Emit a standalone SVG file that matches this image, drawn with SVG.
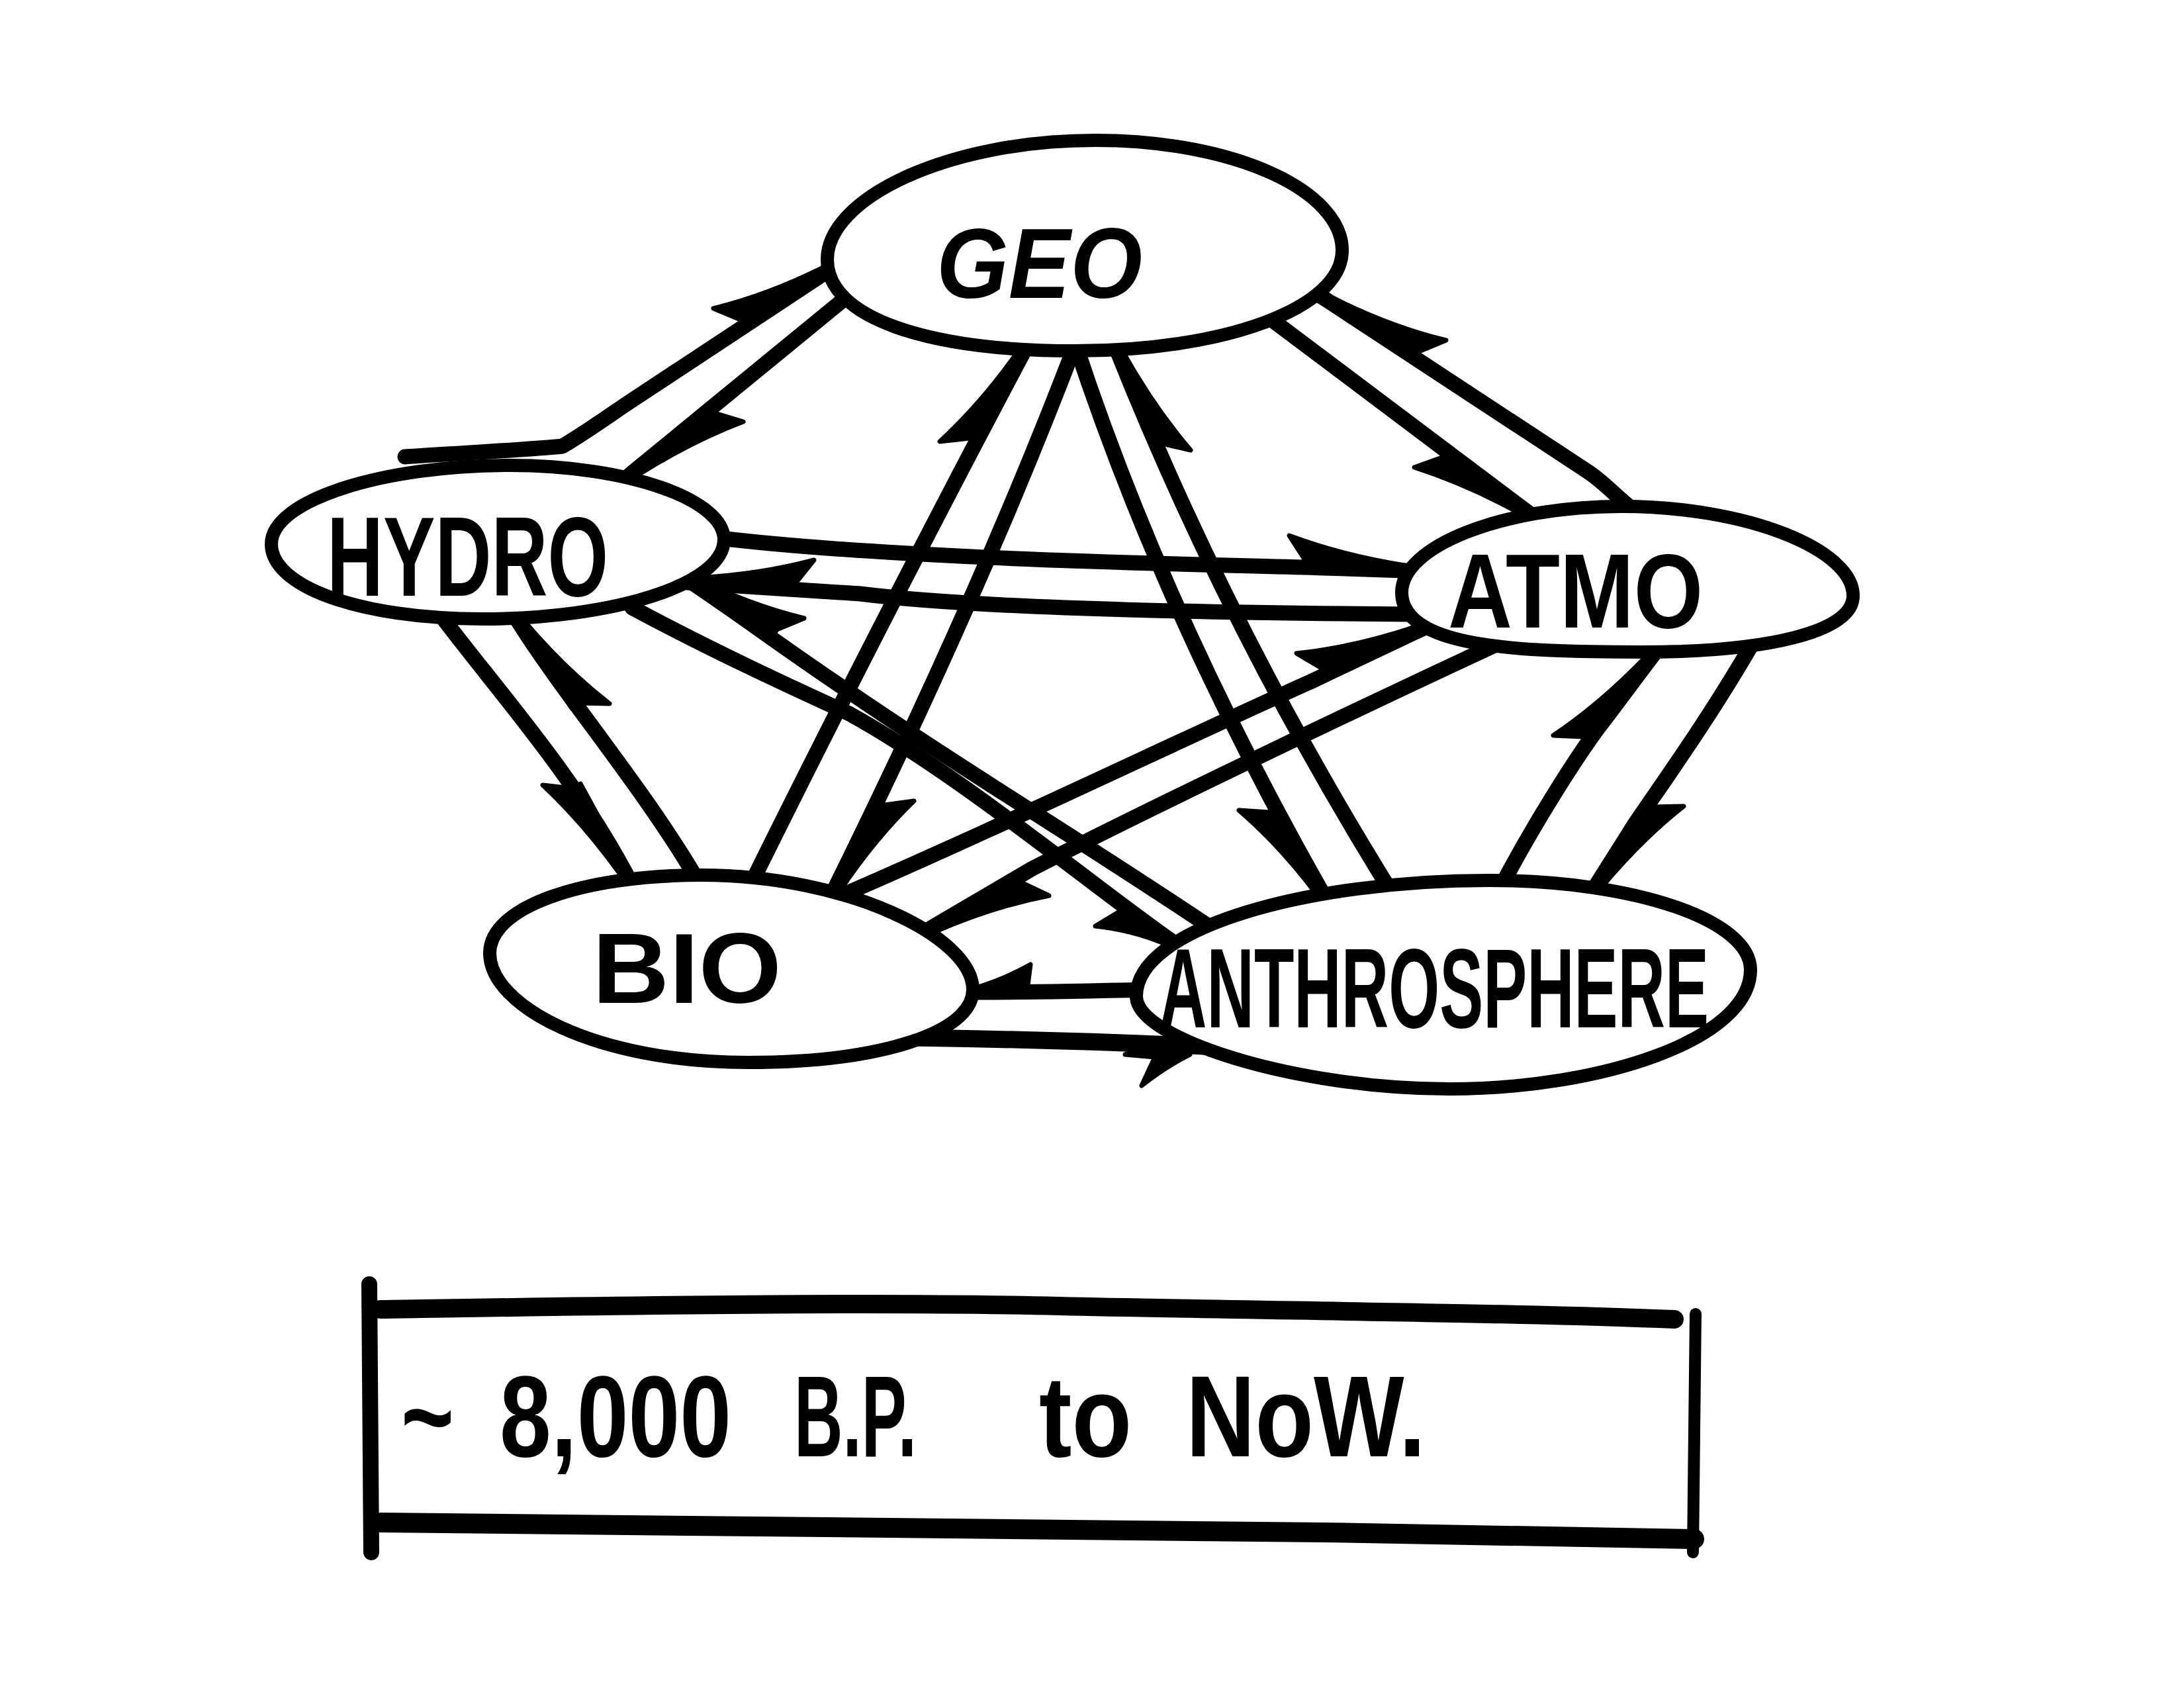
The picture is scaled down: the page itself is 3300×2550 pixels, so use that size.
<svg xmlns="http://www.w3.org/2000/svg" width="3300" height="2550" viewBox="0 0 3300 2550">
<style>
.ln{fill:none;stroke:#000;stroke-width:23;stroke-linecap:round;stroke-linejoin:round}
.hd{fill:#000;stroke:#000;stroke-width:7;stroke-linejoin:round}
.nd{fill:#fff;stroke:#000;stroke-width:20}
.lb{font-family:"Liberation Sans",Arial,sans-serif;font-weight:bold;fill:#000}
.bx{fill:none;stroke:#000;stroke-linecap:round}
</style>
<rect width="3300" height="2550" fill="#fff"/>
<g id="connectors">
<path class="ln" d="M 612,690 C 700,684 790,680 850,674 C 890,650 920,628 950,608 L 1250,410 L 1268,398"/>
<path class="hd" d="M 1252,413 L 1246,403 Q 1160,446 1078,466 L 1119,483 L 1127,496 Z"/>
<path class="ln" d="M 1290,440 L 958,712 L 940,727"/>
<path class="hd" d="M 955,709 L 963,718 Q 1044,667 1123,637 L 1080,624 L 1071,613 Z"/>
<path class="ln" d="M 2470,772 C 2440,748 2425,730 2400,713 L 2012,458 L 1995,447"/>
<path class="hd" d="M 2010,461 L 2016,451 Q 2102,494 2185,514 L 2144,531 L 2135,544 Z"/>
<path class="ln" d="M 1915,478 L 2306,772 L 2325,786"/>
<path class="hd" d="M 2308,769 L 2301,778 Q 2218,732 2137,706 L 2179,691 L 2188,679 Z"/>
<path class="ln" d="M 1130,1345 Q 1320,960 1545,535 L 1550,525"/>
<path class="hd" d="M 1549,537 L 1538,531 Q 1483,609 1420,667 L 1465,662 L 1478,669 Z"/>
<path class="ln" d="M 1625,520 Q 1480,900 1260,1345 L 1252,1362"/>
<path class="hd" d="M 1256,1343 L 1267,1349 Q 1320,1269 1381,1210 L 1337,1216 L 1323,1209 Z"/>
<path class="ln" d="M 1625,520 Q 1760,930 2000,1352 L 2010,1370"/>
<path class="hd" d="M 2003,1350 L 1993,1356 Q 1936,1279 1872,1224 L 1916,1227 L 1929,1220 Z"/>
<path class="ln" d="M 2110,1360 Q 1860,960 1690,535 L 1686,524"/>
<path class="hd" d="M 1686,536 L 1697,532 Q 1744,616 1799,680 L 1756,670 L 1742,676 Z"/>
<path class="ln" d="M 1080,812 C 1350,845 1800,852 2000,858 L 2122,862 L 2145,863"/>
<path class="hd" d="M 2122,866 L 2122,854 Q 2028,839 1948,809 L 1972,846 L 1972,861 Z"/>
<path class="ln" d="M 2135,928 C 1900,926 1500,922 1300,897 L 1052,881 L 1025,879"/>
<path class="hd" d="M 1052,885 L 1053,873 Q 1148,868 1230,846 L 1202,881 L 1202,896 Z"/>
<path class="ln" d="M 655,915 C 740,1030 860,1160 945,1318 L 958,1343"/>
<path class="hd" d="M 949,1316 L 938,1322 Q 882,1244 820,1186 L 864,1191 L 877,1184 Z"/>
<path class="ln" d="M 1060,1340 C 980,1200 860,1060 785,942 L 775,927"/>
<path class="hd" d="M 782,944 L 792,938 Q 854,1011 921,1063 L 876,1062 L 864,1070 Z"/>
<path class="ln" d="M 1835,1405 C 1650,1280 1450,1160 1283,1045 C 1200,990 1120,930 1042,878 L 1020,863"/>
<path class="hd" d="M 1040,881 L 1046,871 Q 1132,914 1215,934 L 1174,951 L 1165,964 Z"/>
<path class="ln" d="M 955,918 C 1080,985 1200,1040 1283,1078 C 1450,1170 1640,1330 1768,1420 L 1795,1439"/>
<path class="hd" d="M 1770,1417 L 1763,1427 Q 1712,1405 1655,1399 L 1690,1378 L 1698,1366 Z"/>
<path class="ln" d="M 1250,1362 C 1500,1255 1800,1110 1980,1030 L 2138,955 L 2160,945"/>
<path class="hd" d="M 2140,959 L 2135,948 Q 2044,978 1959,987 L 1998,1010 L 2004,1023 Z"/>
<path class="ln" d="M 2258,975 C 2000,1095 1720,1230 1560,1312 L 1410,1400 L 1390,1412"/>
<path class="hd" d="M 1408,1397 L 1414,1407 Q 1502,1369 1585,1353 L 1545,1334 L 1537,1321 Z"/>
<path class="ln" d="M 2265,1345 C 2320,1240 2390,1130 2430,1080 L 2490,1000 L 2500,987"/>
<path class="hd" d="M 2493,1002 L 2484,995 Q 2417,1064 2347,1111 L 2391,1113 L 2403,1122 Z"/>
<path class="ln" d="M 2648,972 C 2580,1090 2500,1200 2470,1245 L 2410,1340 L 2400,1356"/>
<path class="hd" d="M 2407,1338 L 2417,1344 Q 2478,1270 2544,1218 L 2499,1219 L 2487,1211 Z"/>
<path class="ln" d="M 1740,1495 C 1650,1497 1550,1499 1478,1499 L 1455,1499"/>
<path class="hd" d="M 1478,1503 L 1478,1491 Q 1520,1478 1557,1457 L 1553,1488 L 1553,1503 Z"/>
<path class="ln" style="stroke-width:26" d="M 1318,1567 C 1450,1568 1620,1572 1808,1580 L 1830,1581"/>
<path class="hd" d="M 1795,1567 L 1798,1593 Q 1760,1612 1725,1640 L 1745,1597 L 1700,1593 Z"/>
</g>
<g id="node-geo">
<path class="nd" d="M 1250,392 C 1250,300 1430,212 1655,212 C 1870,212 2028,290 2028,378 C 2028,466 1850,530 1625,530 C 1400,530 1250,480 1250,392 Z"/>
<text class="lb" x="1415" y="450" font-size="150" font-style="italic" textLength="311" lengthAdjust="spacingAndGlyphs">GEO</text>
</g>
<g id="node-hydro">
<path class="nd" d="M 410,822 C 410,755 580,703 770,703 C 950,703 1094,755 1094,815 C 1094,885 920,935 730,935 C 540,935 410,885 410,822 Z"/>
<text class="lb" x="494" y="900" font-size="170" textLength="425" lengthAdjust="spacingAndGlyphs">HYDRO</text>
</g>
<g id="node-atmo">
<path class="nd" d="M 2118,895 C 2118,825 2270,765 2450,765 C 2640,765 2800,830 2800,900 C 2800,955 2670,985 2480,985 C 2290,985 2118,978 2118,895 Z"/>
<text class="lb" x="2188" y="948" font-size="160" textLength="385" lengthAdjust="spacingAndGlyphs">ATMO</text>
</g>
<g id="node-bio">
<path class="nd" d="M 740,1440 C 740,1370 880,1322 1060,1322 C 1280,1322 1470,1415 1470,1495 C 1470,1560 1330,1605 1130,1605 C 900,1605 740,1520 740,1440 Z"/>
<text class="lb" x="895" y="1515" font-size="150" textLength="286" lengthAdjust="spacingAndGlyphs">BIO</text>
</g>
<g id="node-anthrosphere">
<path class="nd" d="M 1717,1505 C 1717,1400 1980,1330 2250,1330 C 2470,1330 2645,1390 2645,1465 C 2645,1570 2420,1645 2190,1645 C 1960,1645 1717,1570 1717,1505 Z"/>
<text class="lb" x="1752" y="1552" font-size="170" textLength="830" lengthAdjust="spacingAndGlyphs">ANTHROSPHERE</text>
</g>
<g id="period-box">
<path class="bx" style="stroke-width:24" d="M 558,1940 L 561,2345"/>
<path class="bx" style="stroke-width:28" d="M 575,1978 C 900,1973 1300,1966 1600,1973 C 1900,1980 2300,1983 2530,1993"/>
<path class="bx" style="stroke-width:18" d="M 2562,1985 L 2558,2345"/>
<path class="bx" style="stroke-width:30" d="M 575,2300 C 1000,2303 1500,2307 2000,2315 C 2300,2320 2500,2323 2560,2325"/>
<text class="lb" y="2200" font-size="175"><tspan x="606" textLength="80" lengthAdjust="spacingAndGlyphs">~</tspan><tspan x="755" textLength="350" lengthAdjust="spacingAndGlyphs">8,000</tspan><tspan x="1200" textLength="185" lengthAdjust="spacingAndGlyphs">B.P.</tspan><tspan x="1570" textLength="140" lengthAdjust="spacingAndGlyphs">to</tspan><tspan x="1792" textLength="362" lengthAdjust="spacingAndGlyphs">NoW.</tspan></text>
</g>
</svg>
